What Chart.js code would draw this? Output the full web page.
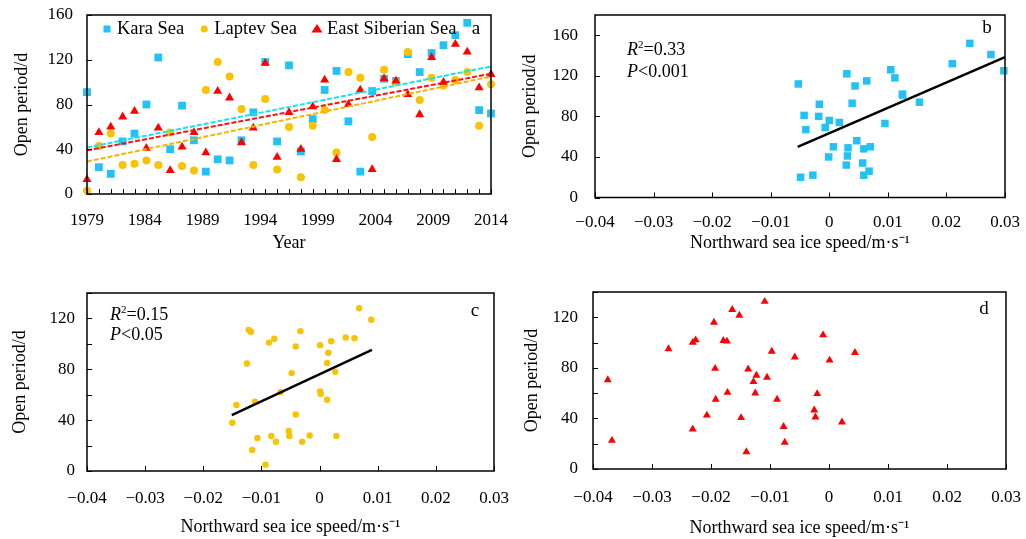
<!DOCTYPE html>
<html>
<head>
<meta charset="utf-8">
<script src="https://cdn.jsdelivr.net/npm/chart.js@4.4.0/dist/chart.umd.min.js"></script>
<style>
  body { margin: 0; background: #fff; width: 1026px; height: 539px; overflow: hidden; position: relative; }
  canvas { position: absolute; }
</style>
</head>
<body>
<canvas id="ca" width="513" height="270" style="left:0;top:0"></canvas>
<canvas id="cb" width="513" height="270" style="left:513px;top:0"></canvas>
<canvas id="cc" width="513" height="269" style="left:0;top:270px"></canvas>
<canvas id="cd" width="513" height="269" style="left:513px;top:270px"></canvas>
<script>
// --- panel a: open period by year ---
const years = [1979,1980,1981,1982,1983,1984,1985,1986,1987,1988,1989,1990,1991,1992,1993,1994,1995,
  1996,1997,1998,1999,2000,2001,2002,2003,2004,2005,2006,2007,2008,2009,2010,2011,2012,2013];
const yearLabels = [1979, 1984, 1989, 1994, 1999, 2004, 2009, 2014];
const karaOpen   = [91,24,18,47,54,80,122,40,79,48,20,31,30,48,73,118,47,115,38,67,93,110,65,20,92,103,101,125,109,126,133,142,153,75,72];
const laptevOpen = [3,43,54,26,27,30,26,55,25,21,93,118,105,76,26,85,22,60,15,61,75,37,109,104,51,111,100,127,84,104,97,102,109,61,98];
const esOpen     = [13,55,60,69,74,41,59,21,42,55,37,92,86,46,59,117,33,73,40,78,102,31,80,93,22,103,101,89,71,122,100,134,127,95,107];
const karaTrend   = [41.5, 114];
const laptevTrend = [29, 105];
const esTrend     = [39, 107.5];

// --- panel b: Kara Sea vs northward ice speed ---
const karaSpeed  = [0.0240,0.0276,0.0298,0.0210,0.0105,0.0112,0.0064,0.0125,0.0154,0.0095,0.0070,0.0059,0.0057,0.0068,0.0059,
  0.0030,-0.0053,0.0044,-0.0017,0.0039,-0.0043,-0.0018,0.0000,0.0017,-0.0040,-0.0007,0.0047,0.0007,0.0032,-0.0001,0.0031,0.0029,-0.0049,-0.0028,0.0125];
const karaPeriod = [152,141,125,132,126,118,115,101,94,73,50,48,34,26,22,
  122,112,110,92,93,81,80,76,74,67,69,56,50,49,40,41,32,20,22,102];
const karaFitX = [-0.0054, 0.030];
const karaFitY = [49.9, 138.4];

// --- panel c: Laptev Sea ---
const laptevSpeed  = [0.0068,0.0089,-0.0122,-0.0118,-0.0033,-0.0078,-0.0087,-0.0041,0.0001,0.0020,0.0045,0.0060,0.0015,0.0013,-0.0125,
  0.0027,-0.0048,-0.0067,0.0001,0.0002,0.0013,-0.0111,-0.0143,-0.0150,-0.0041,-0.0053,-0.0052,-0.0017,0.0029,-0.0083,-0.0107,-0.0075,-0.0030,-0.0116,-0.0093];
const laptevPeriod = [128,119,111,109.5,110,104,101,98,99,102,105,104.5,93,85,84.5,
  78,77,62,62.5,60.5,56,54.5,52,38,44.5,31.5,27.5,28,27.5,27.5,26,23,23,16.5,5];
const laptevFitX = [-0.0151, 0.0090];
const laptevFitY = [44, 95.3];

// --- panel d: East Siberian Sea ---
const esSpeed  = [-0.0109,-0.0164,-0.0152,-0.0195,-0.0010,-0.0226,-0.0231,-0.0179,-0.0173,-0.0272,-0.0097,0.0044,-0.0058,0.0001,-0.0193,
  -0.0137,-0.0123,-0.0105,-0.0375,-0.0128,-0.0172,-0.0125,-0.0020,-0.0192,-0.0088,-0.0025,-0.0023,-0.0207,-0.0149,0.0022,-0.0077,-0.0231,-0.0368,-0.0075,-0.0140];
const esPeriod = [132.5,126,121.5,116,106,102,100,101.5,101,95,93,92,88.5,86,79.5,
  79,74,72.5,70.5,69,60.5,60,59.5,55,55,46.5,41,42.5,40.5,37,33.5,31.5,22.5,21,13.5];

const KARA = '#22c3f4', LAPTEV = '#f9c300', ES = '#ff0000';
const FONT = "'Liberation Serif', 'Times New Roman', serif";
Chart.defaults.font.family = FONT;
Chart.defaults.font.size = 17;
Chart.defaults.color = '#000';
Chart.defaults.animation = false;

function pts(label, xs, ys, color, style, r, order) {
  return {
    label: label, data: xs.map((x, i) => ({x: x, y: ys[i]})),
    pointStyle: style, pointRadius: r, pointHoverRadius: r,
    backgroundColor: color, borderColor: color, borderWidth: 0,
    clip: false, order: order
  };
}
function fitLine(xs, ys, color, dash, width) {
  return {
    data: [{x: xs[0], y: ys[0]}, {x: xs[xs.length - 1], y: ys[ys.length - 1]}],
    showLine: true, pointRadius: 0, borderColor: color, borderWidth: width,
    borderDash: dash, order: 0, clip: false
  };
}
function speedLabel(v) {
  v = Math.round(v * 100) / 100;
  if (v === 0) return '0';
  return (v < 0 ? '\u2212' : '') + Math.abs(v).toFixed(2);
}
// fixed axis sizes so the plot boxes sit where the figure has them
function fixWidth(w) {
  return s => { s.width = w; s.paddingTop = 0; s.paddingBottom = 0; };
}
function fixHeight(h) {
  return s => { s.height = h; s.paddingLeft = 0; s.paddingRight = 0; };
}
function yAxis(max, width, pad, titlePad) {
  return {
    min: 0, max: max,
    afterFit: fixWidth(width),
    grid: { display: false, drawTicks: false }, border: { display: false },
    ticks: { stepSize: 20, padding: pad, callback: v => (v % 40 === 0 && v <= 160) ? v : '' },
    title: { display: true, text: 'Open period/d', font: { size: 18 }, padding: { top: titlePad, bottom: 0 } }
  };
}
function speedAxis(height, pad, titlePad) {
  return {
    min: -0.04, max: 0.03,
    afterFit: fixHeight(height),
    grid: { display: false, drawTicks: false }, border: { display: false },
    ticks: { stepSize: 0.01, padding: pad, maxRotation: 0, autoSkip: false, callback: speedLabel },
    title: { display: true, text: 'Northward sea ice speed/m\u00b7s\u207b\u00b9', font: { size: 18 }, padding: { top: 0, bottom: titlePad } }
  };
}

function drawMark(ctx, style, x, y, r, color) {
  ctx.fillStyle = color;
  ctx.beginPath();
  if (style === 'rect') ctx.rect(x - r, y - r, 2 * r, 2 * r);
  else if (style === 'circle') ctx.arc(x, y, r, 0, Math.PI * 2);
  else { ctx.moveTo(x, y - r); ctx.lineTo(x + r * 1.1, y + r * 0.7); ctx.lineTo(x - r * 1.1, y + r * 0.7); ctx.closePath(); }
  ctx.fill();
}

// frame, inward ticks, panel letter, statistics and legend
const panelDecor = {
  id: 'panelDecor',
  afterDraw(chart, args, o) {
    const ctx = chart.ctx, a = chart.chartArea;
    const xs = chart.scales.x, ys = chart.scales.y;
    const xVals = o.xTicks || xs.ticks.map(t => t.value);
    ctx.save();
    ctx.strokeStyle = '#000';
    ctx.lineWidth = 1;
    ctx.beginPath();
    xVals.forEach(v => { const p = Math.round(xs.getPixelForValue(v)) + 0.5; ctx.moveTo(p, a.bottom); ctx.lineTo(p, a.bottom - 5); });
    ys.ticks.forEach(t => { const p = Math.round(ys.getPixelForValue(t.value)) + 0.5; ctx.moveTo(a.left, p); ctx.lineTo(a.left + 5, p); });
    ctx.stroke();
    ctx.lineWidth = 1.5;
    ctx.strokeRect(a.left, a.top, a.right - a.left, a.bottom - a.top);

    ctx.fillStyle = '#000';
    ctx.textBaseline = 'middle';
    ctx.font = '19px ' + FONT;
    ctx.textAlign = 'center';
    ctx.fillText(o.letter, a.right - o.letterDx, a.top + o.letterDy);

    ctx.textAlign = 'left';
    if (o.stats) {
      const sx = a.left + o.stats.dx, sy = a.top + o.stats.dy;
      ctx.font = 'italic 18px ' + FONT;
      ctx.fillText('R', sx, sy);
      let w = ctx.measureText('R').width;
      ctx.font = '11px ' + FONT;
      ctx.fillText('2', sx + w, sy - 5);
      w += ctx.measureText('2').width;
      ctx.font = '18px ' + FONT;
      ctx.fillText('=' + o.stats.r2, sx + w, sy);
      const py = sy + o.stats.gap;
      ctx.font = 'italic 18px ' + FONT;
      ctx.fillText('P', sx, py);
      w = ctx.measureText('P').width;
      ctx.font = '18px ' + FONT;
      ctx.fillText('<' + o.stats.p, sx + w, py);
    }
    if (o.legend) {
      let x = a.left + o.legend.dx;
      const y = a.top + o.legend.dy;
      ctx.font = '18.5px ' + FONT;
      o.legend.items.forEach(it => {
        drawMark(ctx, it.style, x, y, it.r, it.color);
        ctx.fillStyle = '#000';
        ctx.fillText(it.label, x + 10, y);
        x += 10 + ctx.measureText(it.label).width + 20;
      });
    }
    ctx.restore();
  }
};

const common = {
  responsive: false,
  events: [],
  plugins: { legend: { display: false }, tooltip: { enabled: false } }
};

// panel a
new Chart(document.getElementById('ca'), {
  type: 'scatter',
  data: { datasets: [
    pts('Kara Sea', years, karaOpen, KARA, 'rect', 5.5, 3),
    pts('Laptev Sea', years, laptevOpen, LAPTEV, 'circle', 4, 2),
    pts('East Siberian Sea', years, esOpen, ES, 'triangle', 5.2, 1),
    fitLine(years, karaTrend, '#14e4f2', [5, 2], 2),
    fitLine(years, laptevTrend, '#f5b400', [5, 2], 2),
    fitLine(years, esTrend, '#ff1010', [5, 2], 2)
  ]},
  options: Object.assign({}, common, {
    layout: { padding: { top: 15, right: 22, left: 0, bottom: 0 } },
    scales: {
      x: { type: 'linear', display: false, min: years[0], max: years[years.length - 1] },
      xl: {
        type: 'linear', position: 'bottom', min: 1979, max: 2014,
        afterFit: fixHeight(76),
        afterBuildTicks: s => { s.ticks = yearLabels.map(v => ({value: v})); },
        grid: { display: false, drawTicks: false }, border: { display: false },
        ticks: { padding: 16, maxRotation: 0, autoSkip: false, callback: v => String(v) },
        title: { display: true, text: 'Year', font: { size: 18 }, padding: { top: 0, bottom: 16 } }
      },
      y: yAxis(160, 87, 14, 11)
    },
    plugins: Object.assign({}, common.plugins, {
      panelDecor: {
        letter: 'a', letterDx: 15, letterDy: 14, xTicks: years,
        legend: { dx: 20, dy: 14, items: [
          { label: 'Kara Sea', style: 'rect', r: 3.5, color: KARA },
          { label: 'Laptev Sea', style: 'circle', r: 3.5, color: LAPTEV },
          { label: 'East Siberian Sea', style: 'triangle', r: 5, color: ES }
        ]}
      }
    })
  }),
  plugins: [panelDecor]
});

// panel b
new Chart(document.getElementById('cb'), {
  type: 'scatter',
  data: { datasets: [
    pts('Kara Sea', karaSpeed, karaPeriod, KARA, 'rect', 5.3, 1),
    fitLine(karaFitX, karaFitY, '#000', [], 2.5)
  ]},
  options: Object.assign({}, common, {
    layout: { padding: { top: 15, right: 21, left: 0, bottom: 0 } },
    scales: { x: speedAxis(72.5, 15, 16), y: yAxis(180, 82, 17, 6) },
    plugins: Object.assign({}, common.plugins, {
      panelDecor: { letter: 'b', letterDx: 18, letterDy: 13, stats: { dx: 32, dy: 35, gap: 22, r2: '0.33', p: '0.001' } }
    })
  }),
  plugins: [panelDecor]
});

// panel c
new Chart(document.getElementById('cc'), {
  type: 'scatter',
  data: { datasets: [
    pts('Laptev Sea', laptevSpeed, laptevPeriod, LAPTEV, 'circle', 3.2, 1),
    fitLine(laptevFitX, laptevFitY, '#000', [], 2.5)
  ]},
  options: Object.assign({}, common, {
    layout: { padding: { top: 23, right: 19, left: 0, bottom: 0 } },
    scales: { x: speedAxis(68, 17, 1), y: yAxis(140, 87, 12, 9) },
    plugins: Object.assign({}, common.plugins, {
      panelDecor: { letter: 'c', letterDx: 19, letterDy: 18, stats: { dx: 23, dy: 22, gap: 20, r2: '0.15', p: '0.05' } }
    })
  }),
  plugins: [panelDecor]
});

// panel d
new Chart(document.getElementById('cd'), {
  type: 'scatter',
  data: { datasets: [
    pts('East Siberian Sea', esSpeed, esPeriod, ES, 'triangle', 4.6, 1)
  ]},
  options: Object.assign({}, common, {
    layout: { padding: { top: 22, right: 20, left: 0, bottom: 0 } },
    scales: { x: speedAxis(70, 18, 0), y: yAxis(140, 80, 15, 8) },
    plugins: Object.assign({}, common.plugins, {
      panelDecor: { letter: 'd', letterDx: 22, letterDy: 17 }
    })
  }),
  plugins: [panelDecor]
});
</script>
</body>
</html>
